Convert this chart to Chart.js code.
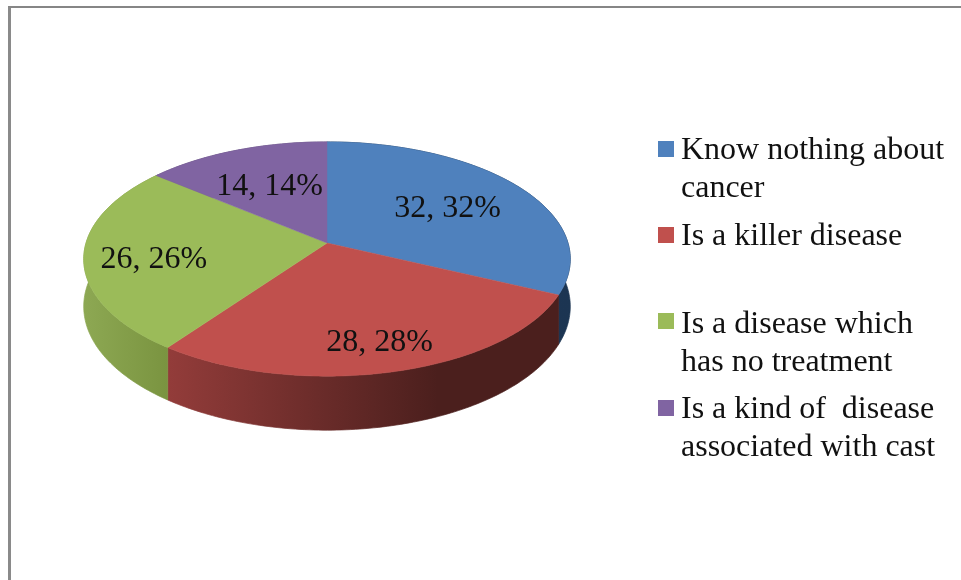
<!DOCTYPE html>
<html>
<head>
<meta charset="utf-8">
<title>Cancer awareness pie</title>
<script src="https://cdn.jsdelivr.net/npm/chart.js@4/dist/chart.umd.min.js"></script>
<style>
  html, body { margin: 0; padding: 0; background: #fff; overflow: hidden; }
  #wrap { position: relative; width: 961px; height: 580px; filter: blur(0.4px); }
  #frame { position: absolute; left: 8px; top: 6px; right: 0; bottom: 0; border-top: 2px solid #868686; border-left: 3px solid #8a8a8a; }
  canvas { position: absolute; left: 0; top: 0; }
  .swatch { position: absolute; left: 658px; width: 16px; height: 16px; }
  .entry { position: absolute; left: 681px; font: 32px/37.5px "Liberation Serif", serif; color: #111; white-space: pre; }
</style>
</head>
<body>
<div id="wrap">
  <div id="frame"></div>
  <canvas id="myChart" width="961" height="580"></canvas>
  <div id="legend"></div>
</div>
<script>
var categories = [
  'Know nothing about\ncancer',
  'Is a killer disease',
  'Is a disease which\nhas no treatment',
  'Is a kind of  disease\nassociated with cast'
];
var values = [32, 28, 26, 14];
var percents = [32, 28, 26, 14];
var colors = ['#4f81bd', '#c0504d', '#9bbb59', '#8064a2'];

// side wall shades, left to right across each slice
var wallColors = [
  ['#1f3a5c', '#1c3552'],
  ['#933c3a', '#4b1f1d'],
  ['#8da853', '#7a9440'],
  ['#5e4a78', '#5e4a78']
];

var tilt = 0.477;      // squash of the disc
var persp = 0.1368;    // front of the disc is closer than the back
var depth = 46.6;
// how far out along the slice each label sits, and its nudge down
var labelRadius = [0.62, 0.785, 0.715, 0.6];
var labelDrop = [2, 2, 6, 2];

function project(arc, a, k) {
  var v = Math.sin(a) * k;
  var w = 1 - persp * v;
  return {
    x: arc.x + arc.outerRadius * Math.cos(a) * k / w,
    y: arc.y + arc.outerRadius * tilt * v / w,
    d: depth / w
  };
}

function rim(arc) {
  var pts = [];
  var steps = Math.ceil((arc.endAngle - arc.startAngle) * 60);
  for (var i = 0; i <= steps; i++) {
    pts.push(project(arc, arc.startAngle + (arc.endAngle - arc.startAngle) * i / steps, 1));
  }
  return pts;
}

var pie3d = {
  id: 'pie3d',
  beforeDatasetDraw: function (chart, args) {
    var ctx = chart.ctx;
    var arcs = args.meta.data;
    var i, j, pts;

    // walls first, the top face covers the back ones
    for (i = 0; i < arcs.length; i++) {
      pts = rim(arcs[i]);
      var minX = Infinity, maxX = -Infinity;
      pts.forEach(function (p) { minX = Math.min(minX, p.x); maxX = Math.max(maxX, p.x); });
      var g = ctx.createLinearGradient(minX, 0, i == 1 ? minX + 270 : maxX, 0);
      g.addColorStop(0, wallColors[i][0]);
      g.addColorStop(1, wallColors[i][1]);
      ctx.fillStyle = g;
      ctx.strokeStyle = g;
      ctx.lineWidth = 0.7;
      ctx.beginPath();
      pts.forEach(function (p, n) { n ? ctx.lineTo(p.x, p.y) : ctx.moveTo(p.x, p.y); });
      for (j = pts.length - 1; j >= 0; j--) ctx.lineTo(pts[j].x, pts[j].y + pts[j].d);
      ctx.closePath();
      ctx.fill();
      ctx.stroke();
    }

    for (i = 0; i < arcs.length; i++) {
      pts = rim(arcs[i]);
      ctx.fillStyle = colors[i];
      ctx.strokeStyle = colors[i];
      ctx.lineWidth = 0.5;
      ctx.beginPath();
      ctx.moveTo(arcs[i].x, arcs[i].y);
      pts.forEach(function (p) { ctx.lineTo(p.x, p.y); });
      ctx.closePath();
      ctx.fill();
      ctx.stroke();
    }

    ctx.fillStyle = '#111';
    ctx.font = '32px "Liberation Serif", serif';
    ctx.textAlign = 'center';
    ctx.textBaseline = 'middle';
    for (i = 0; i < arcs.length; i++) {
      var mid = (arcs[i].startAngle + arcs[i].endAngle) / 2;
      var p = project(arcs[i], mid, labelRadius[i]);
      ctx.fillText(values[i] + ', ' + percents[i] + '%', p.x, p.y + labelDrop[i]);
    }
    return false;
  }
};

new Chart(document.getElementById('myChart').getContext('2d'), {
  type: 'pie',
  data: {
    labels: categories,
    datasets: [{ data: values, backgroundColor: colors, borderWidth: 0 }]
  },
  options: {
    responsive: false,
    animation: false,
    layout: { padding: { left: 86, right: 393, top: 2, bottom: 96 } },
    plugins: { legend: { display: false }, tooltip: { enabled: false } }
  },
  plugins: [pie3d]
});

// legend is laid out by hand, the gaps in the original are uneven
var legendTops = [130, 216, 304, 389];
var swatchTops = [141, 227, 313, 400];
var legend = document.getElementById('legend');
categories.forEach(function (name, i) {
  var s = document.createElement('div');
  s.className = 'swatch';
  s.style.top = swatchTops[i] + 'px';
  s.style.background = colors[i];
  legend.appendChild(s);
  var e = document.createElement('div');
  e.className = 'entry';
  e.style.top = legendTops[i] + 'px';
  e.textContent = name;
  legend.appendChild(e);
});
</script>
</body>
</html>
